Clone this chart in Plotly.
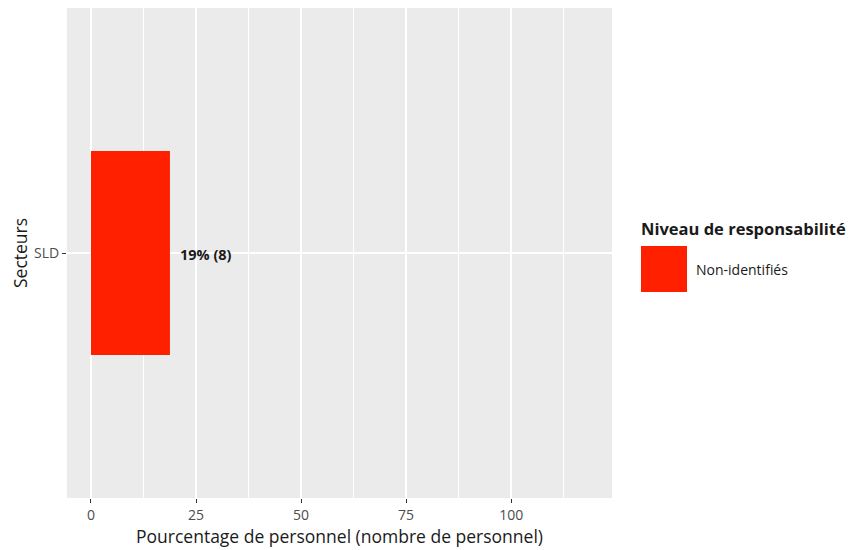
import plotly.graph_objects as go

secteurs = ["SLD"]
pourcentages = [18.8]
effectifs = [8]
niveau = "Non-identifiés"
tick_vals = [0, 25, 50, 75, 100]

RED = "#FF2000"
FONT = "Open Sans"

labels = [f"{round(p)}% ({n})" for p, n in zip(pourcentages, effectifs)]

fig = go.Figure()
fig.add_trace(go.Bar(
    x=pourcentages, y=secteurs, orientation="h", width=0.5,
    marker=dict(color=RED, line=dict(width=0)), name=niveau, showlegend=False,
    hoverinfo="skip",
))
for p, s, lab in zip(pourcentages, secteurs, labels):
    fig.add_annotation(x=p, y=s, text=f"<b>{lab}</b>", showarrow=False,
                       xanchor="left", xshift=8, yshift=-1,
                       font=dict(family=FONT, size=14.5, color="#1a1a1a"))

fig.update_layout(
    width=854, height=550,
    margin=dict(l=59, r=250, t=0, b=60),
    paper_bgcolor="white", plot_bgcolor="#EBEBEB",
    font=dict(family=FONT, size=14, color="#4D4D4D"),
    showlegend=False,
    xaxis=dict(
        range=[-5.7, 124.0], tickvals=tick_vals, ticks="outside", ticklen=4,
        tickcolor="#333333", tickwidth=1, showgrid=True, gridcolor="white",
        gridwidth=1.5, zeroline=False, showline=False,
        tickfont=dict(family=FONT, size=14, color="#4D4D4D"),
        minor=dict(dtick=12.5, tick0=12.5, showgrid=True, gridcolor="white",
                   gridwidth=0.7, ticks=""),
        title=dict(text="Pourcentage de personnel (nombre de personnel)",
                   font=dict(family=FONT, size=17.5, color="#1a1a1a"), standoff=3),
    ),
    yaxis=dict(
        type="category", range=[-0.6, 0.6], ticks="outside", ticklen=4,
        tickcolor="#333333", tickwidth=1, showgrid=True, gridcolor="white",
        gridwidth=1.5, zeroline=False, showline=False,
        tickfont=dict(family=FONT, size=14, color="#4D4D4D"),
        title=dict(text="Secteurs", font=dict(family=FONT, size=17.5, color="#1a1a1a"),
                   standoff=1),
    ),
)

# manual ggplot-like legend
fig.add_annotation(xref="paper", yref="paper", x=(639 - 67) / 545, y=(498 - 228) / 490,
                   text=f"<b>Niveau de responsabilité</b>", showarrow=False,
                   xanchor="left", yanchor="middle",
                   font=dict(family=FONT, size=16.5, color="#1a1a1a"))
fig.add_shape(type="rect", xref="paper", yref="paper",
              x0=(641 - 67) / 545, x1=(687 - 67) / 545,
              y0=(498 - 292) / 490, y1=(498 - 246) / 490,
              fillcolor=RED, line=dict(width=0))
fig.add_annotation(xref="paper", yref="paper", x=(694 - 67) / 545, y=(498 - 269) / 490,
                   text=niveau, showarrow=False, xanchor="left", yanchor="middle",
                   font=dict(family=FONT, size=14, color="#1a1a1a"))

fig.write_html("out.html")
